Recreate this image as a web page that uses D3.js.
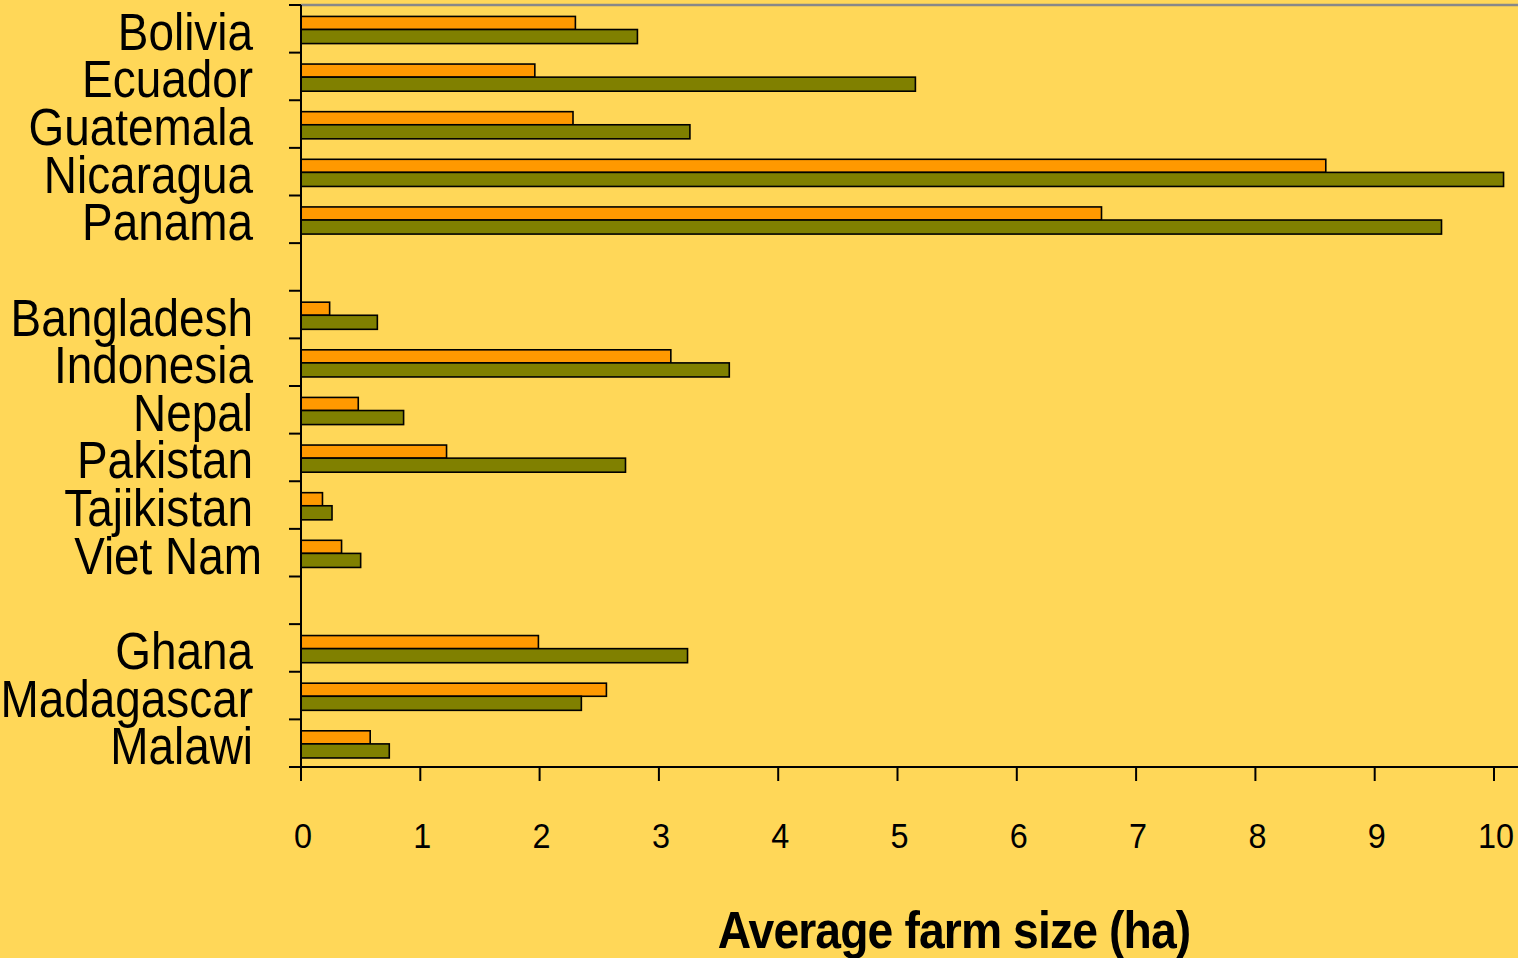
<!DOCTYPE html>
<html>
<head>
<meta charset="utf-8">
<script src="https://cdn.jsdelivr.net/npm/d3@7"></script>
<style>
  body { margin: 0; background: #FFD758; overflow: hidden; }
  svg { display: block; }
</style>
</head>
<body>
<div id="chart"></div>
<script>
// categories, top to bottom (gap rows = empty space between regions)
var countries = ['Bolivia', 'Ecuador', 'Guatemala', 'Nicaragua', 'Panama', 'gap1',
  'Bangladesh', 'Indonesia', 'Nepal', 'Pakistan', 'Tajikistan', 'Viet Nam', 'gap2',
  'Ghana', 'Madagascar', 'Malawi'];

// orange bars (upper bar of each pair)
var seriesA = [2.30, 1.96, 2.28, 8.59, 6.71, null,
  0.24, 3.10, 0.48, 1.22, 0.18, 0.34, null,
  1.99, 2.56, 0.58];
// olive bars (lower bar of each pair)
var seriesB = [2.82, 5.15, 3.26, 10.08, 9.56, null,
  0.64, 3.59, 0.86, 2.72, 0.26, 0.50, null,
  3.24, 2.35, 0.74];

var xTicks = [0, 1, 2, 3, 4, 5, 6, 7, 8, 9, 10];

var width = 1518;
var height = 958;
var squeeze = 0.9; // narrow font look

var svg = d3.select('#chart')
  .append('svg')
  .attr('width', width)
  .attr('height', height);

var x_scale = d3.scaleLinear()
  .domain([0, 10])
  .range([301, 1494]);

var y_scale = d3.scaleBand()
  .domain(countries)
  .range([5, 767])
  .padding(0);

var bw = y_scale.bandwidth();

// top grey border line
svg.append('line')
  .attr('x1', 301).attr('x2', width)
  .attr('y1', 5).attr('y2', 5)
  .attr('stroke', '#888')
  .attr('stroke-width', 2.5);

var rows = countries.map(function(c, i) {
  return { name: c, a: seriesA[i], b: seriesB[i] };
}).filter(function(d) { return d.a !== null; });

// orange bars
svg.selectAll('rect.a')
  .data(rows)
  .enter()
  .append('rect')
  .attr('class', 'a')
  .attr('x', x_scale(0))
  .attr('y', function(d) { return y_scale(d.name) + bw * 0.24; })
  .attr('width', function(d) { return x_scale(d.a) - x_scale(0); })
  .attr('height', bw * 0.275)
  .attr('fill', '#FF9900')
  .attr('stroke', '#000')
  .attr('stroke-width', 1.6);

// olive bars
svg.selectAll('rect.b')
  .data(rows)
  .enter()
  .append('rect')
  .attr('class', 'b')
  .attr('x', x_scale(0))
  .attr('y', function(d) { return y_scale(d.name) + bw * 0.515; })
  .attr('width', function(d) { return x_scale(d.b) - x_scale(0); })
  .attr('height', bw * 0.295)
  .attr('fill', '#808000')
  .attr('stroke', '#000')
  .attr('stroke-width', 1.6);

// y axis line + ticks at band boundaries
svg.append('line')
  .attr('x1', 301).attr('x2', 301)
  .attr('y1', 5).attr('y2', 767)
  .attr('stroke', '#000')
  .attr('stroke-width', 2);

var boundaries = countries.map(function(c) { return y_scale(c); });
svg.selectAll('line.ytick')
  .data(boundaries)
  .enter()
  .append('line')
  .attr('class', 'ytick')
  .attr('x1', 289).attr('x2', 301)
  .attr('y1', function(d) { return d; })
  .attr('y2', function(d) { return d; })
  .attr('stroke', '#000')
  .attr('stroke-width', 2);

// country labels
svg.selectAll('text.cat')
  .data(rows)
  .enter()
  .append('text')
  .attr('class', 'cat')
  .attr('transform', function(d) {
    var dx = d.name === 'Viet Nam' ? 262 : 253;
    return 'translate(' + dx + ',' + (y_scale(d.name) + bw / 2 + 21) + ') scale(' + squeeze + ',1)';
  })
  .attr('text-anchor', 'end')
  .attr('font-family', 'Liberation Sans, Arial, sans-serif')
  .attr('font-size', 51)
  .attr('fill', '#000')
  .text(function(d) { return d.name; });

// x axis
svg.append('line')
  .attr('x1', 289).attr('x2', width)
  .attr('y1', 767).attr('y2', 767)
  .attr('stroke', '#000')
  .attr('stroke-width', 2);

svg.selectAll('line.xtick')
  .data(xTicks)
  .enter()
  .append('line')
  .attr('class', 'xtick')
  .attr('x1', function(d) { return x_scale(d); })
  .attr('x2', function(d) { return x_scale(d); })
  .attr('y1', 767).attr('y2', 781)
  .attr('stroke', '#000')
  .attr('stroke-width', 2);

svg.selectAll('text.xlab')
  .data(xTicks)
  .enter()
  .append('text')
  .attr('class', 'xlab')
  .attr('transform', function(d) {
    return 'translate(' + (x_scale(d) + 2) + ',848) scale(' + squeeze + ',1)';
  })
  .attr('text-anchor', 'middle')
  .attr('font-family', 'Liberation Sans, Arial, sans-serif')
  .attr('font-size', 36)
  .attr('fill', '#000')
  .text(function(d) { return d; });

// axis title
svg.append('text')
  .attr('transform', 'translate(954,948) scale(0.89,1)')
  .attr('text-anchor', 'middle')
  .attr('font-family', 'Liberation Sans, Arial, sans-serif')
  .attr('font-weight', 'bold')
  .attr('font-size', 52)
  .attr('letter-spacing', -1)
  .attr('fill', '#000')
  .text('Average farm size (ha)');
</script>
</body>
</html>
